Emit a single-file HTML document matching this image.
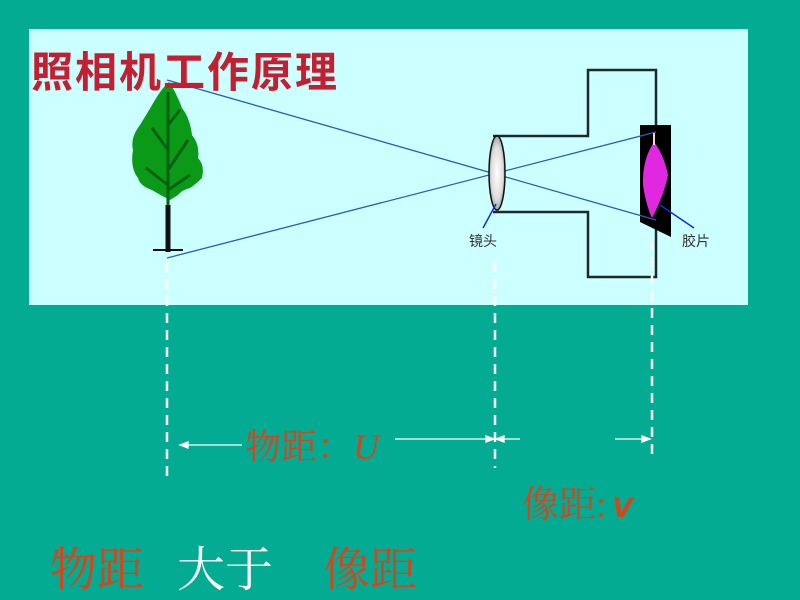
<!DOCTYPE html>
<html><head><meta charset="utf-8"><style>
body{margin:0;width:800px;height:600px;background:#03AB93;overflow:hidden;position:relative}
.t{position:absolute;white-space:nowrap;line-height:1}
</style></head><body>
<svg width="800" height="600" style="position:absolute;left:0;top:0">
<defs><radialGradient id="lg" cx="0.5" cy="0.5" r="0.6"><stop offset="0" stop-color="#fff"/><stop offset="0.6" stop-color="#ddd"/><stop offset="1" stop-color="#777"/></radialGradient></defs>
<rect x="29" y="29" width="719" height="276" fill="#CCFFFF"/>
<g fill="none" stroke="#1a2a2a" stroke-width="2.5">
<polyline points="493,136 588,136 588,70 656,70 656,277 588,277 588,212 493,212"/>
</g>
<polygon points="640,125 671,125 671,237 640,222" fill="#000"/>
<path d="M654,142 Q642,160 643,185 Q646,205 652,218 Q664,195 668,175 Q664,155 654,142Z" fill="#e028e0"/>
<line x1="654" y1="133" x2="654" y2="145" stroke="#fcd" stroke-width="2"/>
<line x1="168" y1="205" x2="168" y2="252" stroke="#111" stroke-width="5"/>
<line x1="153" y1="250" x2="183" y2="250" stroke="#111" stroke-width="2"/>
<path d="M169,82 Q176,92 182,108 Q190,118 192,135 Q200,145 198,158 Q205,165 202,178 Q195,185 190,188 Q182,190 178,195 L170,200 Q160,195 152,190 Q140,186 138,178 Q130,168 133,150 Q130,138 140,125 Q148,112 155,100 Q162,88 169,82Z" fill="#0b9a18"/>
<path d="M168,92 L168,205 M168,150 L152,128 M168,170 L188,140 M168,185 L146,168 M168,125 L180,110 M168,190 L190,175" stroke="#06600f" stroke-width="3" fill="none"/>
<g stroke="#2a5fb0" stroke-width="1.3" fill="none">
<line x1="167" y1="80" x2="656" y2="220"/>
<line x1="167" y1="258" x2="656" y2="132"/>
</g>
<ellipse cx="497" cy="173" rx="8" ry="37" fill="url(#lg)" stroke="#111" stroke-width="1.5"/>
<line x1="496" y1="204" x2="483" y2="228" stroke="#1030d0" stroke-width="1.5"/>
<line x1="660" y1="205" x2="694" y2="228" stroke="#1030d0" stroke-width="1.5"/>
<g stroke="#fff" stroke-width="2.5" stroke-dasharray="10,7">
<line x1="167" y1="262" x2="167" y2="482"/>
<line x1="495" y1="262" x2="495" y2="468"/>
<line x1="652" y1="240" x2="652" y2="460"/>
</g>
<g stroke="#fff" stroke-width="1.3" fill="#fff">
<line x1="182" y1="445" x2="242" y2="445"/><polygon points="180,445 188,442 188,448"/>
<line x1="395" y1="439" x2="492" y2="439"/><polygon points="494,439 486,436 486,442"/>
<line x1="498" y1="439" x2="520" y2="439"/><polygon points="496,439 504,436 504,442"/>
<line x1="615" y1="439" x2="648" y2="439"/><polygon points="650,439 642,436 642,442"/>
</g>
</svg>
<div class="t" style="left:31px;top:39px;font:bold 42px 'Liberation Sans','Noto Sans CJK SC',sans-serif;color:#C41E30;letter-spacing:2px">照相机工作原理</div>
<div class="t" style="left:469px;top:231px;font:14px 'Liberation Sans','Noto Sans CJK SC',sans-serif;color:#333">镜头</div>
<div class="t" style="left:682px;top:231px;font:14px 'Liberation Sans','Noto Sans CJK SC',sans-serif;color:#333">胶片</div>
<div class="t" style="left:245px;top:419px;font:36px 'Liberation Serif','Noto Serif CJK SC',serif;color:#D2461E">物距：<i>U</i></div>
<div class="t" style="left:522px;top:474px;font:37px 'Liberation Serif','Noto Serif CJK SC',serif;color:#D2461E">像距:<b style="font-family:'Liberation Sans',sans-serif;font-style:italic;margin-left:6px">v</b></div>
<div class="t" style="left:50px;top:533px;font:47px 'Liberation Serif','Noto Serif CJK SC',serif;color:#D2461E">物距</div>
<div class="t" style="left:177px;top:531px;font:48px 'Liberation Serif','Noto Serif CJK SC',serif;color:#fff">大于</div>
<div class="t" style="left:323px;top:533px;font:47px 'Liberation Serif','Noto Serif CJK SC',serif;color:#D2461E">像距</div>
</body></html>
